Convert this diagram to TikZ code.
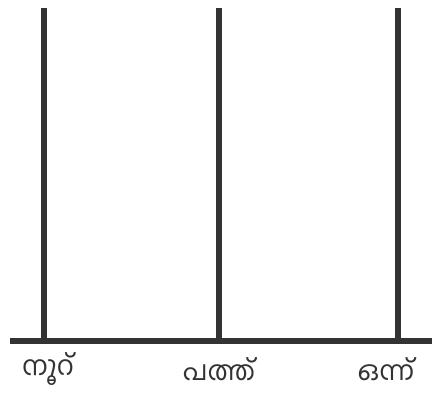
\documentclass[tikz,border=0pt]{standalone}
\usepackage{fontspec}
\newfontfamily\malfont[Script=Malayalam]{Hind Kochi}
\definecolor{rod}{HTML}{333333}
\begin{document}
\begin{tikzpicture}[x=1pt,y=1pt,
  rodline/.style={draw=rod,line width=6pt},
  lbl/.style={font=\malfont\fontsize{27}{30}\selectfont,text=rod,inner sep=0pt}]
\useasboundingbox (0,0) rectangle (435,394);
\coordinate (bl) at (10,53);
\coordinate (br) at (432,53);
\coordinate (h0) at (44,53);
\coordinate (t0) at (44,386);
\coordinate (h1) at (219,53);
\coordinate (t1) at (219,386);
\coordinate (h2) at (398,53);
\coordinate (t2) at (398,386);
\draw[rodline] (h0) -- (t0);
\draw[rodline] (h1) -- (t1);
\draw[rodline] (h2) -- (t2);
\draw[rodline] (bl) -- (br);
\node[lbl] (n0) at (48,25) {നൂറ്};
\node[lbl] (n1) at (219,25) {പത്ത്};
\node[lbl] (n2) at (386,25) {ഒന്ന്};
\end{tikzpicture}
\end{document}
